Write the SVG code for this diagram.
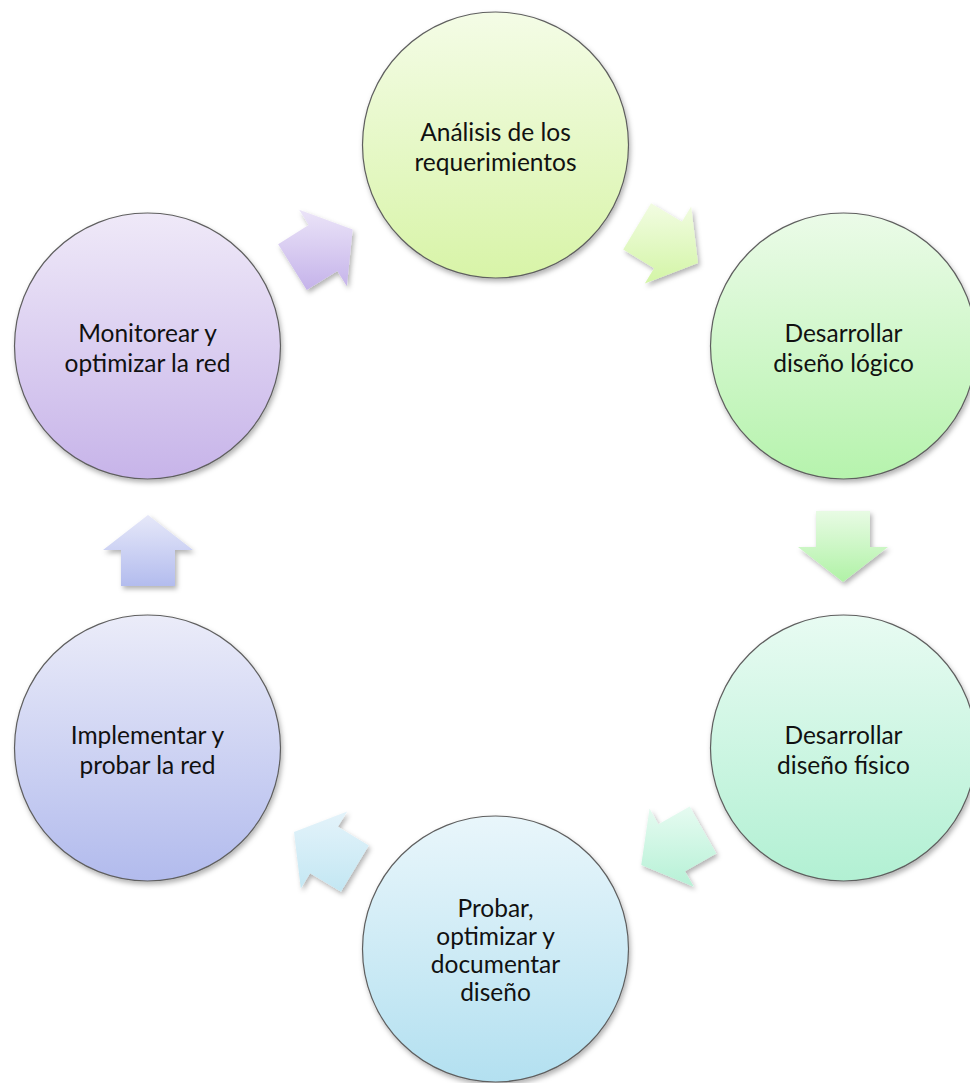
<svg xmlns="http://www.w3.org/2000/svg" width="970" height="1083" viewBox="0 0 970 1083">
<defs>
<style>
.node circle{stroke:#5f5f5f;stroke-width:1.2;filter:url(#sh)}
.node text{font-family:Lato,"Liberation Sans",sans-serif;font-size:24.5px;fill:#111;text-anchor:middle}
.arr{filter:url(#sh2)}
</style>
<filter id="sh" x="-20%" y="-20%" width="140%" height="140%"><feDropShadow dx="1.5" dy="3" stdDeviation="2.5" flood-color="#000" flood-opacity="0.3"/></filter>
<filter id="sh2" x="-30%" y="-30%" width="160%" height="160%"><feDropShadow dx="2" dy="3" stdDeviation="2.5" flood-color="#000" flood-opacity="0.3"/></filter>
<linearGradient id="g1" x1="0" y1="0" x2="0" y2="1"><stop offset="0" stop-color="#f4fce6"/><stop offset="1" stop-color="#d8f4a8"/></linearGradient>
<linearGradient id="g2" x1="0" y1="0" x2="0" y2="1"><stop offset="0" stop-color="#ebfbe8"/><stop offset="1" stop-color="#b6f3ad"/></linearGradient>
<linearGradient id="g3" x1="0" y1="0" x2="0" y2="1"><stop offset="0" stop-color="#e8fbf2"/><stop offset="1" stop-color="#b2f0d3"/></linearGradient>
<linearGradient id="g4" x1="0" y1="0" x2="0" y2="1"><stop offset="0" stop-color="#e9f6fb"/><stop offset="1" stop-color="#b3e0f0"/></linearGradient>
<linearGradient id="g5" x1="0" y1="0" x2="0" y2="1"><stop offset="0" stop-color="#ebecf9"/><stop offset="1" stop-color="#b2bbed"/></linearGradient>
<linearGradient id="g6" x1="0" y1="0" x2="0" y2="1"><stop offset="0" stop-color="#efe9f8"/><stop offset="1" stop-color="#c7b4e9"/></linearGradient>
<linearGradient id="a1" x1="0" y1="0" x2="0" y2="1"><stop offset="0" stop-color="#f2fce2"/><stop offset="1" stop-color="#d3f5a6"/></linearGradient>
<linearGradient id="a2" x1="0" y1="0" x2="0" y2="1"><stop offset="0" stop-color="#e8fbe4"/><stop offset="1" stop-color="#b0f2a6"/></linearGradient>
<linearGradient id="a3" x1="0" y1="0" x2="0" y2="1"><stop offset="0" stop-color="#e6fbf1"/><stop offset="1" stop-color="#b6f1d6"/></linearGradient>
<linearGradient id="a4" x1="0" y1="0" x2="0" y2="1"><stop offset="0" stop-color="#e4f3fa"/><stop offset="1" stop-color="#c3e7f3"/></linearGradient>
<linearGradient id="a5" x1="0" y1="0" x2="0" y2="1"><stop offset="0" stop-color="#e6e8f9"/><stop offset="1" stop-color="#b3bcee"/></linearGradient>
<linearGradient id="a6" x1="0" y1="0" x2="0" y2="1"><stop offset="0" stop-color="#ebe4f8"/><stop offset="1" stop-color="#c5b3ea"/></linearGradient>
</defs>
<rect width="970" height="1083" fill="#fff"/>
<g id="connectors">
<polygon class="arr" fill="url(#a1)" points="651.05,203.32 681.91,221.86 691.18,206.43 698,263.03 644.82,283.57 654.09,268.14 623.23,249.6"/>
<polygon class="arr" fill="url(#a2)" points="870,511 870,547 888,547 843,582 798,547 816,547 816,511"/>
<polygon class="arr" fill="url(#a3)" points="716.32,853.47 684.99,871.2 693.86,886.87 641.24,864.93 649.54,808.53 658.41,824.2 689.74,806.47"/>
<polygon class="arr" fill="url(#a4)" points="340.95,891.68 310.09,873.14 300.82,888.57 294,831.97 347.18,811.43 337.91,826.86 368.77,845.4"/>
<polygon class="arr" fill="url(#a5)" points="121,586 121,550 103,550 148,515 193,550 175,550 175,586"/>
<polygon class="arr" fill="url(#a6)" points="278.16,244.18 308.69,225.1 299.15,209.84 352.68,229.45 346.85,286.16 337.31,270.9 306.78,289.98"/>
</g>
<g id="n1" class="node"><circle cx="495.5" cy="145" r="133" fill="url(#g1)"/><text x="495.5" y="141">Análisis de los</text><text x="495.5" y="171">requerimientos</text></g>
<g id="n2" class="node"><circle cx="843.5" cy="346" r="133" fill="url(#g2)"/><text x="843.5" y="342">Desarrollar</text><text x="843.5" y="372">diseño lógico</text></g>
<g id="n3" class="node"><circle cx="843.5" cy="748" r="133" fill="url(#g3)"/><text x="843.5" y="744">Desarrollar</text><text x="843.5" y="774">diseño físico</text></g>
<g id="n4" class="node"><circle cx="495.5" cy="949" r="133" fill="url(#g4)"/><text x="495.5" y="917">Probar,</text><text x="495.5" y="945">optimizar y</text><text x="495.5" y="973">documentar</text><text x="495.5" y="1001">diseño</text></g>
<g id="n5" class="node"><circle cx="147.5" cy="748" r="133" fill="url(#g5)"/><text x="147.5" y="744">Implementar y</text><text x="147.5" y="774">probar la red</text></g>
<g id="n6" class="node"><circle cx="147.5" cy="346" r="133" fill="url(#g6)"/><text x="147.5" y="342">Monitorear y</text><text x="147.5" y="372">optimizar la red</text></g>
</svg>
